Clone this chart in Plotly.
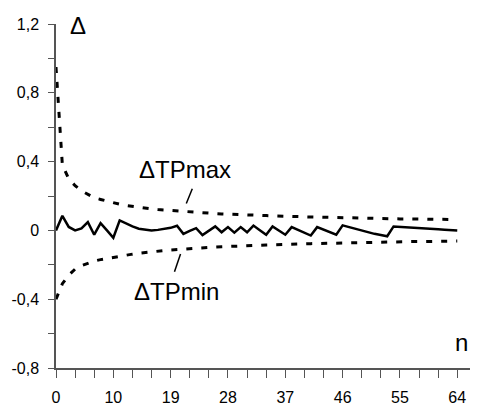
import plotly.graph_objects as go

# ---- data ----
n_values = list(range(1, 65))

delta_tp_max = [0.95, 0.38, 0.30, 0.26, 0.23, 0.21, 0.19, 0.18, 0.17, 0.16,
                0.152, 0.145, 0.139, 0.134, 0.129, 0.125, 0.121, 0.118, 0.115, 0.112,
                0.109, 0.107, 0.104, 0.102, 0.100, 0.098, 0.096, 0.094, 0.093, 0.091,
                0.090, 0.088, 0.087, 0.086, 0.085, 0.083, 0.082, 0.081, 0.080, 0.079,
                0.078, 0.077, 0.076, 0.075, 0.075, 0.074, 0.073, 0.072, 0.071, 0.071,
                0.070, 0.069, 0.069, 0.068, 0.067, 0.067, 0.066, 0.066, 0.065, 0.065,
                0.064, 0.064, 0.063, 0.063]

delta_tp_min = [-0.40, -0.31, -0.26, -0.225, -0.205, -0.19, -0.178, -0.17, -0.163, -0.156,
                -0.150, -0.144, -0.138, -0.133, -0.128, -0.124, -0.120, -0.117, -0.114, -0.111,
                -0.108, -0.106, -0.103, -0.101, -0.099, -0.097, -0.095, -0.093, -0.092, -0.090,
                -0.089, -0.087, -0.086, -0.085, -0.084, -0.082, -0.081, -0.080, -0.079, -0.078,
                -0.077, -0.076, -0.075, -0.074, -0.074, -0.073, -0.072, -0.071, -0.070, -0.070,
                -0.069, -0.068, -0.068, -0.067, -0.066, -0.066, -0.065, -0.065, -0.064, -0.064,
                -0.063, -0.063, -0.062, -0.062]

delta = [0.0, 0.085, 0.02, 0.0, 0.012, 0.048, -0.025, 0.042, 0.0, -0.043,
         0.058, 0.04, 0.023, 0.01, 0.003, 0.0, 0.003, 0.008, 0.015, 0.027,
         -0.02, -0.003, 0.013, -0.027, -0.002, 0.023, -0.011, 0.019, -0.013, 0.019,
         -0.011, 0.028, 0.001, -0.025, 0.023, -0.001, -0.025, 0.019, 0.002, -0.016,
         -0.03, 0.019, 0.005, -0.01, -0.025, 0.029, 0.019, 0.008, -0.003, -0.013,
         -0.02, -0.027, -0.034, 0.023, 0.02, 0.017, 0.014, 0.012, 0.01, 0.008,
         0.006, 0.004, 0.002, 0.0]

x_label_positions = [1, 10, 19, 28, 37, 46, 55, 64]
x_labels = ["0", "10", "19", "28", "37", "46", "55", "64"]
y_label_values = [-0.8, -0.4, 0.0, 0.4, 0.8, 1.2]
y_labels = ["-0,8", "-0,4", "0", "0,4", "0,8", "1,2"]

FONT = "Liberation Sans, Arial, sans-serif"
AX = "#555555"

fig = go.Figure()
fig.add_trace(go.Scatter(x=n_values, y=delta_tp_max, mode="lines",
                         line=dict(color="black", width=3, dash="6px,9px"),
                         showlegend=False, hoverinfo="skip"))
fig.add_trace(go.Scatter(x=n_values, y=delta_tp_min, mode="lines",
                         line=dict(color="black", width=3, dash="6px,9px"),
                         showlegend=False, hoverinfo="skip"))
fig.add_trace(go.Scatter(x=n_values, y=delta, mode="lines",
                         line=dict(color="black", width=2.5),
                         showlegend=False, hoverinfo="skip"))

# x ticks every 3, labelled every 9
x_tickvals = list(range(1, 65, 3))
lab = dict(zip(x_label_positions, x_labels))
x_ticktext = [lab.get(v, "") for v in x_tickvals]

# y ticks every 0.2, labelled every 0.4
y_tickvals = [round(-0.8 + 0.2 * i, 1) for i in range(11)]
ylab = {round(v, 1): t for v, t in zip(y_label_values, y_labels)}
y_ticktext = [ylab.get(round(v, 1), "") for v in y_tickvals]

fig.update_layout(
    width=478, height=414,
    margin=dict(l=56, r=8, t=24, b=40),
    paper_bgcolor="white", plot_bgcolor="white",
    font=dict(family=FONT, size=16, color="black"),
    xaxis=dict(range=[1, 66], tickmode="array", tickvals=x_tickvals, ticktext=x_ticktext,
               ticks="outside", ticklen=8, tickcolor=AX, tickwidth=1.2,
               showline=True, linecolor=AX, linewidth=1.5,
               showgrid=False, zeroline=False, ticklabelstandoff=6,
               tickfont=dict(size=16, family=FONT)),
    yaxis=dict(range=[-0.8, 1.2], tickmode="array", tickvals=y_tickvals, ticktext=y_ticktext,
               ticks="outside", ticklen=6, tickcolor=AX, tickwidth=1.2,
               showline=True, linecolor=AX, linewidth=1.5,
               showgrid=False, zeroline=False, ticklabelstandoff=6,
               tickfont=dict(size=16, family=FONT)),
    yaxis2=dict(range=[-0.8, 1.2], overlaying="y", side="left", anchor="x",
                tickmode="array", tickvals=y_tickvals, showticklabels=False,
                ticks="inside", ticklen=6, tickcolor=AX, tickwidth=1.2,
                showline=False, showgrid=False, zeroline=False),
)

# labels
fig.add_annotation(x=13.65, y=0.354, xref="x", yref="y", text="ΔTPmax", showarrow=False,
                   xanchor="left", yanchor="middle", font=dict(size=24, family=FONT))
fig.add_annotation(x=13.0, y=-0.354, xref="x", yref="y", text="ΔTPmin", showarrow=False,
                   xanchor="left", yanchor="middle", font=dict(size=24, family=FONT))
fig.add_annotation(x=68, y=26, xref="paper", yref="paper", text="Δ", showarrow=False,
                   font=dict(size=24, family=FONT))
fig.add_annotation(x=1.0, y=0.0, xref="paper", yref="paper", text="n", showarrow=False,
                   xanchor="right", yanchor="bottom", yshift=10,
                   font=dict(size=24, family=FONT))
# fix Δ axis title position (paper units)
fig.layout.annotations[2].update(x=(68 - 56) / 414, y=1.0, xanchor="left", yanchor="middle",
                                 yshift=-1)

# leader strokes
fig.add_shape(type="line", xref="x", yref="y", x0=21.46, y0=0.156, x1=22.4, y1=0.242,
              line=dict(color="black", width=1.5))
fig.add_shape(type="line", xref="x", yref="y", x0=19.6, y0=-0.24, x1=20.55, y1=-0.137,
              line=dict(color="black", width=1.5))

fig.write_html("out.html")
